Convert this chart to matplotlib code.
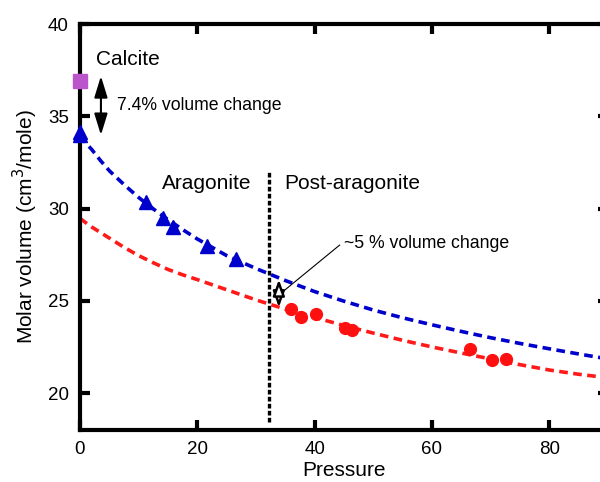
import matplotlib.pyplot as plt

plt.rcParams['font.family'] = ['Liberation Sans', 'DejaVu Sans']

# donnees
calcite_p = [0]
calcite_v = [36.93]

arag_p = [0, 0, 11.2, 14.1, 15.9, 21.6, 26.6]
arag_v = [34.15, 34.0, 30.35, 29.5, 29.0, 27.97, 27.26]

post_p = [35.9, 37.6, 40.2, 45.1, 46.4, 66.4, 70.2, 72.6]
post_v = [24.54, 24.14, 24.27, 23.5, 23.41, 22.38, 21.79, 21.83]

# courbes d'ajustement (points relevés)
fit_p = [0, 1, 2, 3.5, 5, 7.5, 10, 12.5, 15, 17.5, 20, 25, 30, 35, 40, 45, 50,
         55, 60, 65, 70, 75, 80, 85, 90]
fit_arag = [33.95, 33.55, 33.2, 32.6, 32.05, 31.3, 30.6, 29.98, 29.4, 28.86,
            28.35, 27.45, 26.75, 26.1, 25.5, 24.98, 24.5, 24.08, 23.7, 23.34,
            23.0, 22.69, 22.4, 22.12, 21.85]
fit_post = [29.47, 29.23, 29.0, 28.7, 28.4, 27.9, 27.45, 27.06, 26.7, 26.41,
            26.15, 25.6, 25.05, 24.55, 24.1, 23.66, 23.25, 22.86, 22.5, 22.17,
            21.85, 21.54, 21.25, 21.02, 20.83]

transition_p = 32.3

fig = plt.figure(figsize=(6, 4.82), dpi=100)
ax = fig.add_axes([0.1333, 0.1079, 0.88, 0.8423])

ax.plot(fit_p, fit_arag, color='#0000cc', lw=2.6, ls=(0, (2.4, 1.5)))
ax.plot(fit_p, fit_post, color='#ff1a1a', lw=2.6, ls=(0, (2.4, 1.5)))

ax.plot(arag_p, arag_v, '^', color='#0000cc', ms=10, clip_on=False, zorder=5)
ax.plot(post_p, post_v, 'o', color='#ff1010', ms=8.5, clip_on=False, zorder=5)
ax.plot(calcite_p, calcite_v, 's', color='#bb55cc', ms=9.5, clip_on=False, zorder=5)

# transition
ax.plot([transition_p, transition_p], [18.45, 32.1], color='black', lw=2.4,
        ls=(0, (1.4, 0.7)))

# fleches
ax.annotate('', xy=(3.57, 37.18), xytext=(3.57, 33.98),
            arrowprops=dict(arrowstyle='<|-|>,head_length=0.65,head_width=0.2',
                            mutation_scale=20, lw=1.5,
                            color='black', shrinkA=0, shrinkB=0))
ax.annotate('', xy=(33.9, 26.15), xytext=(33.9, 24.65),
            arrowprops=dict(arrowstyle='<|-|>,head_length=0.6,head_width=0.22',
                            mutation_scale=16, lw=1.8, fc='white', ec='black',
                            shrinkA=0, shrinkB=0), zorder=6)
ax.plot([34.4, 44.26], [25.45, 28.02], color='black', lw=0.8)

ax.text(2.7, 38.05, 'Calcite', fontsize=15, va='center', ha='left')
ax.text(6.25, 35.61, '7.4% volume change', fontsize=12.7, va='center', ha='left')
ax.text(13.9, 31.38, 'Aragonite', fontsize=15, va='center', ha='left')
ax.text(34.9, 31.38, 'Post-aragonite', fontsize=15, va='center', ha='left')
ax.text(45.0, 28.11, '~5 % volume change', fontsize=12.7, va='center', ha='left')

ax.set_xlim(0, 90)
ax.set_ylim(18, 40)
ax.set_xticks([0, 20, 40, 60, 80])
ax.set_yticks([20, 25, 30, 35, 40])
ax.tick_params(direction='in', length=7, width=3, labelsize=13.5, pad=8,
               top=True, right=True)
for s in ax.spines.values():
    s.set_linewidth(3)

ax.set_xlabel('Pressure', fontsize=15, labelpad=2)
ax.set_ylabel('Molar volume (cm$^3$/mole)', fontsize=15, labelpad=6)

plt.savefig('out.png', dpi=100)
